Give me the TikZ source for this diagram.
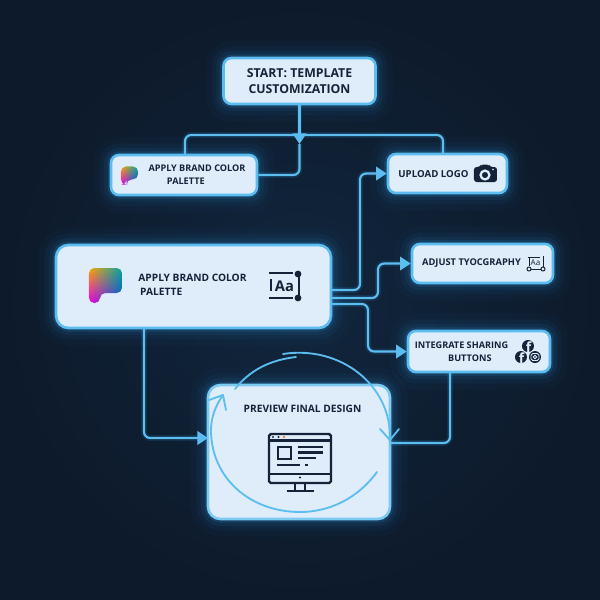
\documentclass[tikz,border=0pt]{standalone}
\usepackage{fontspec}
\setmainfont{Open Sans}
\usetikzlibrary{arrows.meta}
\usetikzlibrary{shadings}
\definecolor{nightblue}{HTML}{0D1A2B}
\definecolor{hazeblue}{HTML}{11263D}
\definecolor{glowblue}{HTML}{2E9BE6}
\definecolor{edgeblue}{HTML}{5CBDF0}
\definecolor{boxfill}{HTML}{DFECF9}
\definecolor{inkblue}{HTML}{14233A}
\tikzset{
    >={Triangle[length=6pt,width=7.6pt]},
    glowbox/.style={draw=edgeblue, fill=boxfill, line width=1.5pt, rounded corners=4.5pt,
        preaction={draw=glowblue, line width=4pt, opacity=.16},
        preaction={draw=glowblue, line width=8pt, opacity=.08},
        preaction={draw=glowblue, line width=13pt, opacity=.05},
        preaction={draw=glowblue, line width=20pt, opacity=.03}},
    wire/.style={draw=edgeblue, line width=1.25pt, rounded corners=3.5pt,
        preaction={draw=glowblue, line width=3.4pt, opacity=.14}},
    loopline/.style={draw=edgeblue, line width=1.05pt, line cap=round, line join=round},
    boxtext/.style={text=inkblue, font=\bfseries\fontsize{5.3}{7.6}\selectfont, align=left, inner sep=0pt},
    icon/.style={draw=inkblue, line width=1.15pt},
    palettemark/.pic={
        \begin{scope}
            \clip[rounded corners=3pt] (-16.5,-17.5) -- (16.5,-17.5) -- (16.5,7.5) -- (-5.5,7.5) -- (-5.5,17.5) -- (-16.5,17.5) -- cycle;
            \shade[upper left=orange!70!yellow, upper right=teal!70!cyan, lower left=magenta!80!violet, lower right=blue!60!cyan!80!black] (-17,-18) rectangle (17,18);
        \end{scope}
    }
}
\begin{document}
\begin{tikzpicture}[x=0.02cm, y=-0.02cm]

            \shade[inner color=hazeblue, outer color=nightblue] (0,0) rectangle (600,600);
            \useasboundingbox (0,0) rectangle (600,600);

            \node[glowbox, minimum width=3.04cm, minimum height=0.92cm] (start) at (299.5,81) {};
            \node[glowbox, minimum width=2.92cm, minimum height=0.80cm] (palette) at (184,175) {};
            \node[glowbox, minimum width=2.38cm, minimum height=0.78cm] (upload) at (447.5,173.5) {};
            \node[glowbox, rounded corners=7pt, minimum width=5.50cm, minimum height=1.66cm] (big) at (193.5,286.5) {};
            \node[glowbox, minimum width=2.82cm, minimum height=0.78cm] (adjust) at (482.5,263.5) {};
            \node[glowbox, minimum width=2.84cm, minimum height=0.82cm] (integrate) at (479,351.5) {};
            \node[glowbox, rounded corners=7pt, draw=edgeblue!80!white, minimum width=3.64cm, minimum height=2.68cm] (preview) at (299,452) {};

            \node[boxtext, font=\bfseries\fontsize{7}{9.4}\selectfont, align=center] (starttext) at (299.5,81) {START: TEMPLATE\\CUSTOMIZATION};
            \node[boxtext, font=\bfseries\fontsize{5.2}{7.6}\selectfont] (palettetext) at (197,175) {APPLY BRAND COLOR\\\hspace*{10.5pt}PALETTE};
            \node[boxtext, font=\bfseries\fontsize{5.5}{7.6}\selectfont] (uploadtext) at (433.5,174) {UPLOAD LOGO};
            \node[boxtext, font=\bfseries\fontsize{5.8}{8}\selectfont] (bigtext) at (192.5,285) {APPLY BRAND COLOR\\\hspace*{1pt}PALETTE};
            \node[boxtext] (adjusttext) at (471.5,263.5) {ADJUST TYOCGRAPHY};
            \node[boxtext, font=\bfseries\fontsize{5.2}{7.6}\selectfont] (integratetext) at (461.5,352) {INTEGRATE SHARING\\\hspace*{19pt}BUTTONS};
            \node[boxtext, font=\bfseries\fontsize{5.8}{8}\selectfont] (previewtext) at (302.5,409) {PREVIEW FINAL DESIGN};

            \coordinate (tiptop) at (299.5,144);
            \coordinate (palettetop) at (185,155);
            \coordinate (uploadtop) at (443,154);
            \coordinate (busmid) at (299.5,135);
            \coordinate (bigupload) at (331,290);
            \coordinate (bigadjust) at (331,298);
            \coordinate (bigshare) at (331,304);
            \coordinate (bigdown) at (144,328);
            \coordinate (previewin) at (208,438);
            \coordinate (sharedown) at (450,372);
            \coordinate (previewout) at (390,443);

            \draw[wire] (palettetop) |- (busmid) -| (uploadtop);
            \draw[wire, ->] (start.south) -- (tiptop);
            \draw[wire] (tiptop) |- (palette.east);
            \draw[wire, ->] (bigupload) -- ++(29,0) |- (upload.west);
            \draw[wire, ->] (bigadjust) -- ++(47,0) |- (adjust.west);
            \draw[wire, ->] (bigshare) -- ++(37,0) |- (integrate.west);
            \draw[wire, ->] (bigdown) |- (previewin);
            \draw[wire] (sharedown) |- (previewout);

            % loop round the preview
            \draw[loopline] (283,354) .. controls (340,345) and (392,385) .. (390,440);
            \draw[loopline] (380,429) -- (390,440) -- (399,429);
            \draw[loopline] (296,357) .. controls (270,360) and (250,370) .. (235,389);
            \draw[loopline] (377,472) .. controls (358,498) and (330,512) .. (300,512)
                .. controls (250,512) and (211,478) .. (211,430)
                .. controls (211,417) and (216,405) .. (223,395);
            \draw[loopline] (209,400) -- (223,395) -- (226,410);

            % icons
            \pic[scale=.52] at (129.5,175.5) {palettemark};
            \pic at (105.5,285.5) {palettemark};

            \fill[inkblue, rounded corners=1.5pt] (474,167) -- (480,167) -- (481,164.5) -- (489,164.5) -- (490,167) -- (497,167) -- (497,182) -- (474,182) -- cycle;
            \draw[boxfill, line width=1.3pt] (485,175) circle (4.4);
            \fill[boxfill] (493,169.5) circle (.9);

            \draw[icon, line width=1.2pt] (269,273) -- (293,273) (269,298) -- (293,298) (271,279) -- (271,291) (299,273) -- (299,298);
            \fill[inkblue] (298,274) circle (3.4) (298,298) circle (3.4);
            \node[text=inkblue, font=\bfseries\fontsize{8.4}{10}\selectfont, inner sep=0pt] (bigaa) at (284.5,286) {Aa};

            \draw[icon, line width=.55pt] (528,257) -- (540,257) (529,257) -- (529,266) (543,256) -- (543,267) (531,269) -- (541,269);
            \draw[icon, line width=.55pt] (529,269) circle (2) (543,269) circle (2);
            \node[text=inkblue, font=\fontsize{4.6}{5}\selectfont, inner sep=0pt] (smallaa) at (535.5,263) {Aa};

            \fill[inkblue] (528,346) circle (6) (521,357) circle (6) (535,357) circle (6);
            \node[text=boxfill, font=\bfseries\fontsize{8}{8}\selectfont, inner sep=0pt] (facebooka) at (528.5,347) {f};
            \node[text=boxfill, font=\bfseries\fontsize{8}{8}\selectfont, inner sep=0pt] (facebookb) at (521.5,358) {f};
            \draw[boxfill, line width=.5pt, rounded corners=1pt] (531,353.5) rectangle (539,360.5);
            \draw[boxfill, line width=.5pt] (535,357) circle (1.7);

            % monitor
            \draw[icon, line width=1.4pt, rounded corners=1pt] (269,434) rectangle (331,483);
            \draw[icon] (269,440.5) -- (331,440.5) (269,474) -- (331,474);
            \fill[inkblue] (273,437) circle (1.2) (278.5,437) circle (1.2);
            \fill[orange!80!red] (284,437) circle (1.2);
            \draw[icon] (278,447) rectangle (291,459);
            \draw[icon] (298,447) -- (323,447) (298,452.5) -- (323,452.5) (298,458) -- (316,458) (277,465) -- (300,465) (305,465) -- (308,465);
            \fill[inkblue] (300,477.5) circle (1.2);
            \draw[icon] (295,483) -- (295,491) (305,483) -- (305,491);
            \draw[icon, line width=1.4pt] (287,491) -- (314,491);

        \end{tikzpicture}
\end{document}
